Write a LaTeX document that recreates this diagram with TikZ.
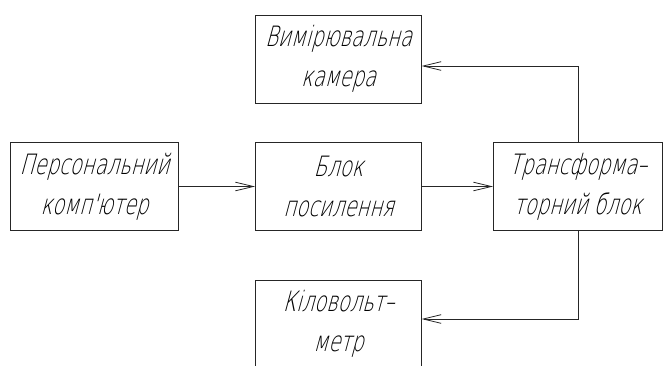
\documentclass[tikz,border=0pt]{standalone}
\usepackage{fontspec}
\usetikzlibrary{arrows.meta}
% narrow slanted drafting-style lettering
\newfontfamily\gostfont{DejaVu Sans ExtraLight}[FakeSlant=0.27,FakeStretch=0.7]
\begin{document}
\begin{tikzpicture}[x=0.75pt,y=-0.75pt,
  blk/.style={draw=black!85, line width=0.7pt, minimum height=66pt, inner sep=0pt,
    align=center, text=black, font=\gostfont\fontsize{21}{30}\selectfont},
  link/.style={draw=black!85, line width=0.7pt,
    -{Straight Barb[length=13.5pt,width=6.5pt,line width=0.6pt]}}]
  \useasboundingbox (0,0) rectangle (663,365);
  % blocks
  \node[blk, minimum width=126pt]   (pc)    at (94.5,186.5)  {Персональний\\комп\char39ютер};
  \node[blk, minimum width=124.5pt] (amp)   at (338.5,186.5) {Блок\\посилення};
  \node[blk, minimum width=126.75pt](trans) at (578,186.5)   {Трансформа–\\торний блок};
  \node[blk, minimum width=124.5pt] (cam)   at (338.5,59)    {Вимірювальна\\камера};
  \node[blk, minimum width=124.5pt] (kv)    at (338.5,324)   {Кіловольт–\\метр};
  % entry points on the side blocks
  \coordinate (camin) at (421.5,66);
  \coordinate (kvin)  at (421.5,319);
  % connectors
  \draw[link] (pc) -- (amp);
  \draw[link] (amp) -- (trans);
  \draw[link] (trans.north) |- (camin);
  \draw[link] (trans.south) |- (kvin);
\end{tikzpicture}
\end{document}
